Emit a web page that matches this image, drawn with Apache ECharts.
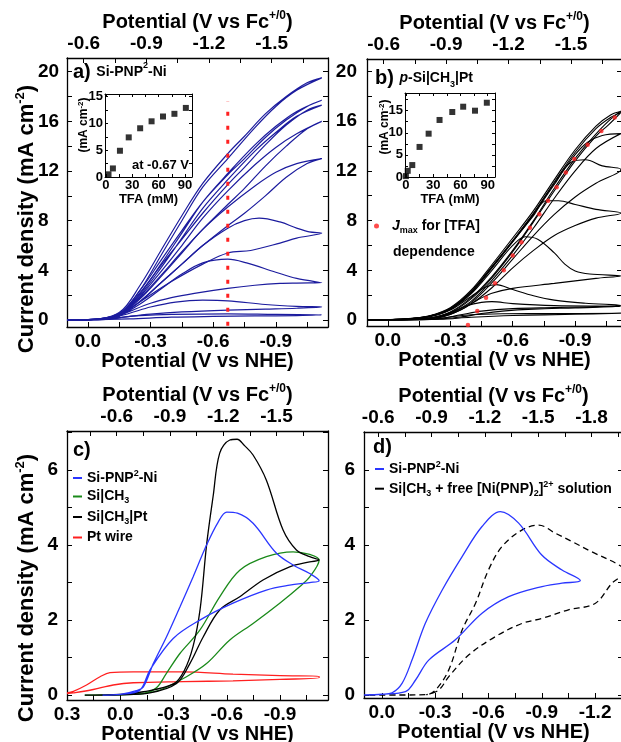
<!DOCTYPE html>
<html>
<head>
<meta charset="utf-8">
<script src="https://cdn.jsdelivr.net/npm/echarts@6/dist/echarts.min.js"></script>
<style>html,body{margin:0;padding:0;background:#fff}#chart{width:621px;height:742px}</style>
</head>
<body>
<div id="chart"></div>
<script>
// ---- data (potential V vs NHE, current density mA cm-2) ----
// a) Si-PNP2-Ni, one loop per [TFA]
var loopsA = [
  [[0.1,0],[0,0.02],[-0.1,0.08],[-0.15,0.2],[-0.25,0.35],[-0.4,0.45],[-0.67,0.5],[-0.9,0.45],[-1.12,0.42],[-1.0,0.36],[-0.8,0.33],[-0.6,0.29],[-0.4,0.23],[-0.2,0.1],[0,0.02],[0.1,0]],
  [[0.1,0],[0,0.02],[-0.1,0.12],[-0.2,0.55],[-0.3,1.05],[-0.42,1.45],[-0.55,1.6],[-0.67,1.55],[-0.85,1.25],[-1.0,1.1],[-1.12,1.05],[-1.0,0.95],[-0.85,0.88],[-0.67,0.8],[-0.45,0.65],[-0.3,0.48],[-0.2,0.3],[-0.1,0.08],[0,0.02],[0.1,0]],
  [[0.1,0],[0,0.02],[-0.1,0.12],[-0.15,0.35],[-0.25,1.3],[-0.35,2.5],[-0.45,3.7],[-0.55,4.6],[-0.67,4.9],[-0.76,4.6],[-0.9,3.85],[-1.0,3.35],[-1.12,3.0],[-1.0,2.98],[-0.92,2.95],[-0.8,2.8],[-0.67,2.55],[-0.51,2.15],[-0.4,1.8],[-0.3,1.35],[-0.2,0.7],[-0.12,0.15],[0,0.02],[0.1,0]],
  [[0.1,0],[0,0.02],[-0.1,0.12],[-0.15,0.35],[-0.25,1.5],[-0.35,3.0],[-0.45,4.5],[-0.55,6.0],[-0.67,7.4],[-0.75,8.0],[-0.82,8.2],[-0.92,7.9],[-1.0,7.4],[-1.06,7.1],[-1.12,7.0],[-1.0,6.6],[-0.92,6.2],[-0.78,5.6],[-0.67,5.4],[-0.55,4.5],[-0.4,3.1],[-0.27,1.7],[-0.17,0.6],[-0.1,0.12],[0,0.02],[0.1,0]],
  [[0.1,0],[0,0.03],[-0.1,0.12],[-0.15,0.35],[-0.25,1.7],[-0.35,3.5],[-0.45,5.4],[-0.55,7.3],[-0.67,9.1],[-0.8,10.8],[-0.9,11.9],[-1.0,12.6],[-1.12,13.0],[-1.05,12.6],[-0.95,11.5],[-0.85,10.0],[-0.75,8.6],[-0.67,7.6],[-0.55,6.0],[-0.45,4.5],[-0.35,3.0],[-0.25,1.5],[-0.15,0.4],[0,0.03],[0.1,0]],
  [[0.1,0],[0,0.03],[-0.1,0.12],[-0.15,0.35],[-0.25,1.9],[-0.35,3.9],[-0.45,6.0],[-0.55,8.2],[-0.67,10.4],[-0.8,12.5],[-0.9,13.9],[-1.0,15.0],[-1.12,16.0],[-1.05,15.4],[-0.95,14.0],[-0.85,12.4],[-0.75,10.6],[-0.67,9.3],[-0.55,7.3],[-0.45,5.5],[-0.35,3.6],[-0.25,1.8],[-0.15,0.45],[0,0.03],[0.1,0]],
  [[0.1,0],[0,0.03],[-0.1,0.12],[-0.15,0.35],[-0.25,2.0],[-0.35,4.2],[-0.45,6.6],[-0.55,9.0],[-0.67,11.3],[-0.8,13.6],[-0.9,15.1],[-1.0,16.4],[-1.12,17.3],[-1.05,16.9],[-0.95,15.7],[-0.85,14.1],[-0.75,12.3],[-0.67,10.9],[-0.55,8.6],[-0.45,6.5],[-0.35,4.4],[-0.25,2.2],[-0.15,0.5],[0,0.03],[0.1,0]],
  [[0.1,0],[0,0.03],[-0.1,0.12],[-0.15,0.35],[-0.25,2.1],[-0.35,4.5],[-0.45,7.0],[-0.55,9.5],[-0.67,11.8],[-0.8,14.1],[-0.9,15.6],[-1.0,16.8],[-1.12,17.7],[-1.05,17.2],[-0.95,16.1],[-0.85,14.7],[-0.75,13.0],[-0.67,11.7],[-0.55,9.5],[-0.45,7.2],[-0.35,4.8],[-0.25,2.4],[-0.15,0.55],[0,0.03],[0.1,0]],
  [[0.1,0],[0,0.03],[-0.1,0.12],[-0.15,0.35],[-0.25,2.4],[-0.35,5.2],[-0.45,8.0],[-0.55,10.7],[-0.67,13.0],[-0.8,15.5],[-0.9,17.2],[-1.0,18.5],[-1.12,19.5],[-1.05,19.1],[-0.95,18.0],[-0.85,16.6],[-0.75,14.8],[-0.67,13.4],[-0.55,11.0],[-0.45,8.4],[-0.35,5.6],[-0.25,2.8],[-0.15,0.6],[0,0.03],[0.1,0]]
];
var vLineA = [[-0.67,-0.45],[-0.67,17.6]];

// b) p-Si|CH3|Pt
var loopsB = [
  [[0.1,0],[0,0.01],[-0.2,0.05],[-0.3,0.25],[-0.4,0.42],[-0.55,0.5],[-0.8,0.52],[-1.12,0.54],[-0.9,0.46],[-0.6,0.36],[-0.4,0.22],[-0.25,0.06],[0,0.01],[0.1,0]],
  [[0.1,0],[0,0.02],[-0.2,0.15],[-0.3,0.6],[-0.38,1.15],[-0.45,1.42],[-0.5,1.48],[-0.6,1.32],[-0.8,1.16],[-1.12,1.1],[-0.9,0.98],[-0.7,0.88],[-0.55,0.72],[-0.45,0.52],[-0.35,0.25],[-0.2,0.05],[0.1,0]],
  [[0.1,0],[0,0.02],[-0.2,0.25],[-0.3,0.8],[-0.4,1.9],[-0.47,2.65],[-0.52,2.85],[-0.6,2.45],[-0.7,1.95],[-0.8,1.6],[-0.95,1.35],[-1.12,1.18],[-1.0,1.08],[-0.8,1.0],[-0.6,0.92],[-0.45,0.72],[-0.35,0.42],[-0.25,0.12],[0,0.02],[0.1,0]],
  [[0.1,0],[0,0.03],[-0.2,0.3],[-0.3,0.85],[-0.4,2.1],[-0.5,4.0],[-0.6,6.0],[-0.66,6.7],[-0.72,6.5],[-0.8,5.4],[-0.85,4.5],[-0.9,3.95],[-0.97,3.7],[-1.12,3.55],[-1.0,3.35],[-0.8,2.95],[-0.6,2.55],[-0.5,2.15],[-0.43,1.6],[-0.35,0.8],[-0.25,0.2],[-0.1,0.03],[0.1,0]],
  [[0.1,0],[0,0.03],[-0.1,0.1],[-0.2,0.3],[-0.3,0.9],[-0.4,2.2],[-0.5,4.2],[-0.6,6.3],[-0.7,8.4],[-0.76,9.6],[-0.82,9.6],[-0.9,9.3],[-1.0,8.9],[-1.12,8.6],[-1.0,8.2],[-0.9,7.6],[-0.8,6.8],[-0.7,5.6],[-0.6,4.2],[-0.5,2.6],[-0.4,1.3],[-0.3,0.45],[-0.2,0.1],[0,0.02],[0.1,0]],
  [[0.1,0],[0,0.03],[-0.1,0.1],[-0.2,0.3],[-0.3,0.9],[-0.4,2.2],[-0.5,4.2],[-0.6,6.3],[-0.7,8.5],[-0.8,10.9],[-0.88,12.7],[-0.95,12.9],[-1.03,12.4],[-1.12,12.1],[-1.0,11.0],[-0.9,9.9],[-0.8,8.5],[-0.7,6.8],[-0.6,4.9],[-0.5,3.0],[-0.4,1.4],[-0.3,0.5],[-0.2,0.12],[0,0.02],[0.1,0]],
  [[0.1,0],[0,0.03],[-0.1,0.1],[-0.2,0.3],[-0.3,0.9],[-0.4,2.25],[-0.5,4.25],[-0.6,6.35],[-0.7,8.55],[-0.8,11.0],[-0.9,13.3],[-0.96,14.3],[-1.03,14.85],[-1.12,15.0],[-1.0,13.8],[-0.9,12.0],[-0.8,9.8],[-0.7,7.4],[-0.6,5.2],[-0.5,3.2],[-0.4,1.5],[-0.3,0.55],[-0.2,0.13],[0,0.02],[0.1,0]],
  [[0.1,0],[0,0.03],[-0.1,0.1],[-0.2,0.32],[-0.3,0.95],[-0.4,2.3],[-0.5,4.3],[-0.6,6.4],[-0.7,8.6],[-0.8,11.1],[-0.9,13.5],[-1.0,15.4],[-1.07,16.3],[-1.12,16.7],[-1.06,15.7],[-1.0,14.8],[-0.9,12.8],[-0.8,10.4],[-0.7,7.9],[-0.6,5.5],[-0.5,3.4],[-0.4,1.7],[-0.3,0.6],[-0.2,0.15],[0,0.02],[0.1,0]],
  [[0.1,0],[0,0.03],[-0.1,0.1],[-0.2,0.35],[-0.3,1.0],[-0.4,2.4],[-0.5,4.45],[-0.6,6.6],[-0.7,8.8],[-0.8,11.3],[-0.9,13.7],[-1.0,15.6],[-1.07,16.5],[-1.12,16.8],[-1.06,16.0],[-0.98,14.6],[-0.9,13.0],[-0.8,10.6],[-0.7,8.0],[-0.6,5.6],[-0.5,3.5],[-0.4,1.8],[-0.3,0.65],[-0.2,0.15],[0,0.02],[0.1,0]]
];
var jmaxV = [-0.385,-0.43,-0.472,-0.515,-0.557,-0.6,-0.642,-0.683,-0.728,-0.77,-0.811,-0.855,-0.896,-0.96,-1.026,-1.09];
var jmaxJ = [-0.4,0.72,1.8,2.95,4.0,5.2,6.26,7.43,8.51,9.6,10.68,11.86,12.96,14.1,15.2,16.3];

// insets: [TFA] (mM) vs current
var tfaA = [3, 8, 16, 26, 39, 52, 65, 78, 91];
var jInsetA = [0.5, 1.6, 4.9, 7.4, 9.1, 10.4, 11.3, 11.8, 12.9];
var tfaB = [0, 2, 7, 15, 25, 37, 51, 63, 76, 89];
var jInsetB = [0.2, 1.4, 2.7, 6.8, 9.8, 12.9, 14.7, 15.9, 15.0, 16.8];

// c) comparison
var pnpC = [[0.1,0],[0,0.02],[-0.09,0.12],[-0.13,0.22],[-0.186,0.84],[-0.26,1.55],[-0.336,2.35],[-0.41,3.15],[-0.486,4.0],[-0.55,4.6],[-0.6,4.88],[-0.66,4.85],[-0.748,4.58],[-0.88,3.78],[-0.98,3.45],[-1.067,3.24],[-1.12,3.05],
            [-1.067,3.0],[-0.954,2.93],[-0.823,2.8],[-0.635,2.45],[-0.448,2.0],[-0.298,1.51],[-0.167,0.67],[-0.11,0.13],[0,0.02],[0.1,0]];
var ch3C = [[0.2,0],[0,0.01],[-0.1,0.04],[-0.22,0.13],[-0.373,0.49],[-0.486,0.84],[-0.617,1.47],[-0.748,1.91],[-0.898,2.45],[-1.01,2.89],[-1.067,3.15],[-1.12,3.6],
            [-1.067,3.75],[-0.973,3.82],[-0.823,3.69],[-0.673,3.33],[-0.56,2.62],[-0.448,1.73],[-0.336,1.11],[-0.26,0.58],[-0.2,0.18],[-0.1,0.03],[0.2,0]];
var ptC = [[0.2,0],[0,0.02],[-0.13,0.09],[-0.3,0.3],[-0.36,0.65],[-0.41,1.3],[-0.45,2.3],[-0.486,4.0],[-0.523,5.3],[-0.56,6.45],[-0.617,6.8],[-0.658,6.82],[-0.7,6.65],[-0.748,6.4],[-0.823,5.73],[-0.917,4.4],[-0.992,3.87],[-1.067,3.69],[-1.12,3.6],
           [-1.067,3.55],[-0.954,3.42],[-0.804,3.07],[-0.673,2.62],[-0.56,2.27],[-0.467,1.55],[-0.392,0.84],[-0.317,0.31],[-0.167,0.06],[0,0.01],[0.2,0]];
var wireC = [[0.3,0.06],[0.264,0.1],[0.19,0.27],[0.114,0.49],[0.058,0.6],[-0.073,0.62],[-0.354,0.62],[-0.635,0.56],[-0.9,0.52],[-1.12,0.5],
             [-1.12,0.46],[-0.9,0.42],[-0.635,0.38],[-0.354,0.36],[-0.073,0.33],[0.04,0.27],[0.152,0.15],[0.264,0.06],[0.3,0.04]];

// d) attached vs free catalyst
var pnpD = [[0.1,0],[0,0.02],[-0.058,0.06],[-0.114,0.31],[-0.17,0.93],[-0.245,1.91],[-0.34,2.8],[-0.452,3.69],[-0.564,4.49],[-0.667,4.89],[-0.77,4.58],[-0.9,3.73],[-1.014,3.33],[-1.117,3.05],
            [-1.014,2.98],[-0.883,2.87],[-0.714,2.62],[-0.564,2.18],[-0.414,1.47],[-0.264,0.93],[-0.19,0.4],[-0.133,0.09],[0,0.02],[0.1,0]];
var freeD = [[0.07,0],[-0.1,0],[-0.25,0.01],[-0.302,0.13],[-0.377,0.67],[-0.452,1.73],[-0.527,2.44],[-0.6,3.33],[-0.677,3.96],[-0.79,4.4],[-0.883,4.53],[-0.977,4.31],[-1.07,4.09],[-1.18,3.82],[-1.333,3.47],[-1.37,3.3],
             [-1.295,2.98],[-1.2,2.44],[-1.05,2.27],[-0.9,2.04],[-0.79,1.91],[-0.64,1.56],[-0.49,1.07],[-0.377,0.49],[-0.32,0.13],[-0.25,0.01]];

// tick labels
var nheTicks = [0, -0.3, -0.6, -0.9];
var nheTicksC = [0.3, 0, -0.3, -0.6, -0.9];
var nheTicksD = [0, -0.3, -0.6, -0.9, -1.2];
var fcTicks = [-0.6, -0.9, -1.2, -1.5];
var fcTicksD = [-0.6, -0.9, -1.2, -1.5, -1.8];
var jTicksAB = [0, 4, 8, 12, 16, 20];
var jTicksCD = [0, 2, 4, 6];
var tfaTicks = [0, 30, 60, 90];
var jTicksInset = [0, 5, 10, 15];

// ---- styling ----
var FONT = "'Liberation Sans', Arial, Helvetica, sans-serif";
var FC_SHIFT = -0.62;
var NAVY = '#1c1c9e', BLUE = '#2a36ff', GREEN = '#1a8a1a', RED = '#ff2020';

function ticksWithMinor(major, lo, hi) {
  var half = Math.abs(major[1] - major[0]) / 2;
  var a = Math.min(lo, hi), b = Math.max(lo, hi);
  var start = Math.min.apply(null, major);
  while (start - half >= a - 1e-9) start -= half;
  var out = [];
  for (var v = start; v <= b + 1e-9; v += half) out.push(Math.round(v * 1e4) / 1e4);
  return out;
}
function f1(v) { return v.toFixed(1); }
function f0(v) { return String(Math.round(v)); }

var richName = {
  t: {fontFamily: FONT, fontWeight: 'bold', fontSize: 20, color: '#000', lineHeight: 24},
  sup: {fontFamily: FONT, fontWeight: 'bold', fontSize: 12, color: '#000', lineHeight: 12, verticalAlign: 'top'}
};

function xAx(grid, pos, min, max, labels, o) {
  o = o || {};
  return {
    type: 'value', gridIndex: grid, position: pos, inverse: o.inverse !== false,
    min: min, max: max,
    splitLine: {show: false},
    axisLine: {show: true, onZero: false, lineStyle: {color: '#000', width: o.lw || 1.3}},
    axisTick: {show: true, inside: true, length: o.tick || 5, customValues: ticksWithMinor(labels, min, max), lineStyle: {color: '#000', width: 1}},
    axisLabel: {show: !!o.labels, customValues: labels, margin: o.margin || 5, formatter: o.fmt || f1,
      color: '#000', fontFamily: FONT, fontWeight: 'bold', fontSize: o.fs || 19},
    name: o.name || '', nameLocation: 'middle', nameGap: o.gap || 20,
    nameTextStyle: {color: '#000', fontFamily: FONT, fontWeight: 'bold', fontSize: o.nfs || 20, rich: richName}
  };
}
function yAx(grid, pos, min, max, labels, o) {
  o = o || {};
  return {
    type: 'value', gridIndex: grid, position: pos, min: min, max: max,
    splitLine: {show: false},
    axisLine: {show: true, onZero: false, lineStyle: {color: '#000', width: o.lw || 1.3}},
    axisTick: {show: true, inside: true, length: o.tick || 5, customValues: ticksWithMinor(labels, min, max), lineStyle: {color: '#000', width: 1}},
    axisLabel: {show: !!o.labels, customValues: labels, margin: o.margin || 9, align: o.align || 'right', formatter: f0,
      color: '#000', fontFamily: FONT, fontWeight: 'bold', fontSize: o.fs || 19}
  };
}
var topName = '{t|Potential (V vs Fc}{sup|+/0}{t|)}';
var botName = 'Potential (V vs NHE)';

var grids = [
  {left: 67, top: 58, width: 261, height: 269},
  {left: 367, top: 59, width: 255, height: 267},
  {left: 67, top: 431, width: 261, height: 269},
  {left: 364, top: 432, width: 259, height: 266},
  {left: 105, top: 94, width: 87, height: 83},
  {left: 405, top: 93, width: 90, height: 84}
];
grids.forEach(function (g) { g.outerBoundsMode = 'none'; g.containLabel = false; });

var xAxes = [
  xAx(0, 'bottom', -1.15, 0.1, nheTicks, {labels: true, name: botName, gap: 19}),
  xAx(0, 'top', -1.15 + FC_SHIFT, 0.1 + FC_SHIFT, fcTicks, {labels: true, name: topName, gap: 24}),
  xAx(1, 'bottom', -1.125, 0.1, nheTicks, {labels: true, name: botName, gap: 19}),
  xAx(1, 'top', -1.125 + FC_SHIFT, 0.1 + FC_SHIFT, fcTicks, {labels: true, name: topName, gap: 24}),
  xAx(2, 'bottom', -1.17, 0.3, nheTicksC, {labels: true, name: botName, gap: 19}),
  xAx(2, 'top', -1.17 + FC_SHIFT, 0.3 + FC_SHIFT, fcTicks, {labels: true, name: topName, gap: 24}),
  xAx(3, 'bottom', -1.357, 0.1, nheTicksD, {labels: true, name: botName, gap: 19}),
  xAx(3, 'top', -1.357 + FC_SHIFT, 0.1 + FC_SHIFT, fcTicksD, {labels: true, name: topName, gap: 24}),
  xAx(4, 'bottom', -1, 98, tfaTicks, {inverse: false, labels: true, fmt: f0, fs: 13, margin: 2, tick: 3, lw: 1, name: 'TFA (mM)', gap: 11, nfs: 13}),
  xAx(4, 'top', -1, 98, tfaTicks, {inverse: false, tick: 3, lw: 1}),
  xAx(5, 'bottom', -1, 98, tfaTicks, {inverse: false, labels: true, fmt: f0, fs: 13, margin: 2, tick: 3, lw: 1, name: 'TFA (mM)', gap: 11, nfs: 13}),
  xAx(5, 'top', -1, 98, tfaTicks, {inverse: false, tick: 3, lw: 1})
];
var yAxes = [
  yAx(0, 'left', -0.56, 21.1, jTicksAB, {labels: true, align: 'left', margin: 29}),
  yAx(0, 'right', -0.56, 21.1, jTicksAB),
  yAx(1, 'left', -0.48, 21.0, jTicksAB, {labels: true, margin: 10}),
  yAx(1, 'right', -0.48, 21.0, jTicksAB),
  yAx(2, 'left', -0.13, 7.04, jTicksCD, {labels: true, margin: 9}),
  yAx(2, 'right', -0.13, 7.04, jTicksCD),
  yAx(3, 'left', -0.08, 7.01, jTicksCD, {labels: true, margin: 9}),
  yAx(3, 'right', -0.08, 7.01, jTicksCD),
  yAx(4, 'left', 0, 15.5, jTicksInset, {labels: true, fs: 13, margin: 2, tick: 3, lw: 1}),
  yAx(4, 'right', 0, 15.5, jTicksInset, {tick: 3, lw: 1}),
  yAx(5, 'left', 0, 19, jTicksInset, {labels: true, fs: 13, margin: 2, tick: 3, lw: 1}),
  yAx(5, 'right', 0, 19, jTicksInset, {tick: 3, lw: 1})
];

function cv(name, data, xi, yi, color, width, dash) {
  return {
    name: name, type: 'line', xAxisIndex: xi, yAxisIndex: yi, data: data,
    showSymbol: false, smooth: 0.35, clip: true, silent: true,
    lineStyle: {color: color, width: width || 1.2, type: dash || 'solid'},
    itemStyle: {color: color}
  };
}
function pairs(xs, ys) { return xs.map(function (x, i) { return [x, ys[i]]; }); }

var series = [];
loopsA.forEach(function (d, i) { series.push(cv('a' + i, d, 0, 0, NAVY, 1.2)); });
series.push({
  name: 'vline', type: 'line', xAxisIndex: 0, yAxisIndex: 0, data: vLineA, showSymbol: false, silent: true,
  lineStyle: {color: RED, width: 3, type: [4, 10], cap: 'butt'}, z: 5
});
loopsB.forEach(function (d, i) { series.push(cv('b' + i, d, 2, 2, '#000', 1.1)); });
series.push({
  name: 'jmax', type: 'scatter', xAxisIndex: 2, yAxisIndex: 2, data: pairs(jmaxV, jmaxJ),
  symbol: 'circle', symbolSize: 4.5, itemStyle: {color: RED}, z: 5, silent: true
});
series.push(cv('wire', wireC, 4, 4, RED, 1.3));
series.push(cv('ch3', ch3C, 4, 4, GREEN, 1.3));
series.push(cv('pt', ptC, 4, 4, '#000', 1.3));
series.push(cv('pnpc', pnpC, 4, 4, BLUE, 1.3));
series.push(cv('free', freeD, 6, 6, '#000', 1.3, [6, 4]));
series.push(cv('pnpd', pnpD, 6, 6, BLUE, 1.3));
series.push({name: 'insA', type: 'scatter', xAxisIndex: 8, yAxisIndex: 8, data: pairs(tfaA, jInsetA),
  symbol: 'rect', symbolSize: 6, itemStyle: {color: '#000'}, silent: true});
series.push({name: 'insB', type: 'scatter', xAxisIndex: 10, yAxisIndex: 10, data: pairs(tfaB, jInsetB),
  symbol: 'rect', symbolSize: 6, itemStyle: {color: '#000'}, silent: true});

// legend labels with sub/superscripts
var legendText = {
  pnpc: '{n|Si-PNP}{sup|2}{n|-Ni}',
  ch3: '{n|Si|CH}{sub|3}',
  pt: '{n|Si|CH}{sub|3}{n||Pt}',
  wire: '{n|Pt wire}',
  pnpd: '{n|Si-PNP}{sup|2}{n|-Ni}',
  free: '{n|Si|CH}{sub|3}{n| + free [Ni(PNP)}{sub|2}{n|]}{sup|2+}{n| solution}',
  jmax: '{i|J}{sub|max}{n| for [TFA]}'
};
var richLeg = {
  n: {fontFamily: FONT, fontWeight: 'bold', fontSize: 14, color: '#000', lineHeight: 18},
  i: {fontFamily: FONT, fontWeight: 'bold', fontStyle: 'italic', fontSize: 14, color: '#000', lineHeight: 18, padding: [0, 0, 0, 8]},
  sup: {fontFamily: FONT, fontWeight: 'bold', fontSize: 9, color: '#000', lineHeight: 9, verticalAlign: 'top'},
  sub: {fontFamily: FONT, fontWeight: 'bold', fontSize: 9, color: '#000', lineHeight: 9, verticalAlign: 'bottom'}
};
function leg(data, left, top, gap, icon, w, h) {
  return {
    data: data, left: left, top: top, orient: 'vertical', itemGap: gap, icon: icon,
    itemWidth: w, itemHeight: h, selectedMode: false, padding: 0,
    formatter: function (n) { return legendText[n]; },
    textStyle: {color: '#000', rich: richLeg}
  };
}

var richLabel = {
  l: {fontFamily: FONT, fontWeight: 'bold', fontSize: 20, lineHeight: 22},
  s: {fontFamily: FONT, fontWeight: 'bold', fontSize: 14, lineHeight: 22},
  i: {fontFamily: FONT, fontWeight: 'bold', fontStyle: 'italic', fontSize: 14, lineHeight: 22},
  sup: {fontFamily: FONT, fontWeight: 'bold', fontSize: 9, lineHeight: 12, verticalAlign: 'top'},
  sub: {fontFamily: FONT, fontWeight: 'bold', fontSize: 9, lineHeight: 8, verticalAlign: 'bottom'}
};
var richY = {
  t: {fontFamily: FONT, fontWeight: 'bold', fontSize: 22, lineHeight: 26},
  sup: {fontFamily: FONT, fontWeight: 'bold', fontSize: 13, lineHeight: 13, verticalAlign: 'top'}
};
var richYs = {
  t: {fontFamily: FONT, fontWeight: 'bold', fontSize: 12, lineHeight: 14},
  sup: {fontFamily: FONT, fontWeight: 'bold', fontSize: 8, lineHeight: 8, verticalAlign: 'top'}
};
function gtext(x, y, text, rich, align, rot) {
  return {type: 'text', x: x, y: y, rotation: rot || 0, silent: true, z: 10,
    style: {text: text, rich: rich, align: align || 'left', verticalAlign: 'middle', fill: '#000',
      font: 'bold 14px ' + FONT}};
}

var option = {
  animation: false,
  backgroundColor: '#fff',
  textStyle: {fontFamily: FONT},
  grid: grids,
  xAxis: xAxes,
  yAxis: yAxes,
  legend: [
    leg(['pnpc', 'ch3', 'pt', 'wire'], 73, 469, 4.5, 'rect', 9, 2),
    leg(['pnpd', 'free'], 375, 460, 3.7, 'rect', 9, 2),
    leg(['jmax'], 374, 219, 4, 'circle', 5, 5)
  ],
  series: series,
  graphic: [
    gtext(27, 219, '{t|Current density (mA cm}{sup|-2}{t|)}', richY, 'center', Math.PI / 2),
    gtext(27, 588, '{t|Current density (mA cm}{sup|-2}{t|)}', richY, 'center', Math.PI / 2),
    gtext(73, 72, '{l|a) }{s|Si-PNP}{sup|2}{s|-Ni}', richLabel),
    gtext(375, 78, '{l|b) }{i|p}{s|-Si|CH}{sub|3}{s||Pt}', richLabel),
    gtext(73, 450, '{l|c)}', richLabel),
    gtext(373, 447, '{l|d)}', richLabel),
    gtext(393, 252, '{s|dependence}', richLabel),
    gtext(189, 165, '{s|at -0.67 V}', {s: {fontFamily: FONT, fontWeight: 'bold', fontSize: 13}}, 'right'),
    gtext(84, 125, '{t|(mA cm}{sup|-2}{t|)}', richYs, 'center', Math.PI / 2),
    gtext(385, 127, '{t|(mA cm}{sup|-2}{t|)}', richYs, 'center', Math.PI / 2)
  ]
};

var chart = echarts.init(document.getElementById('chart'));
chart.setOption(option);
window.addEventListener('resize', function () { chart.resize(); });
</script>
</body>
</html>
